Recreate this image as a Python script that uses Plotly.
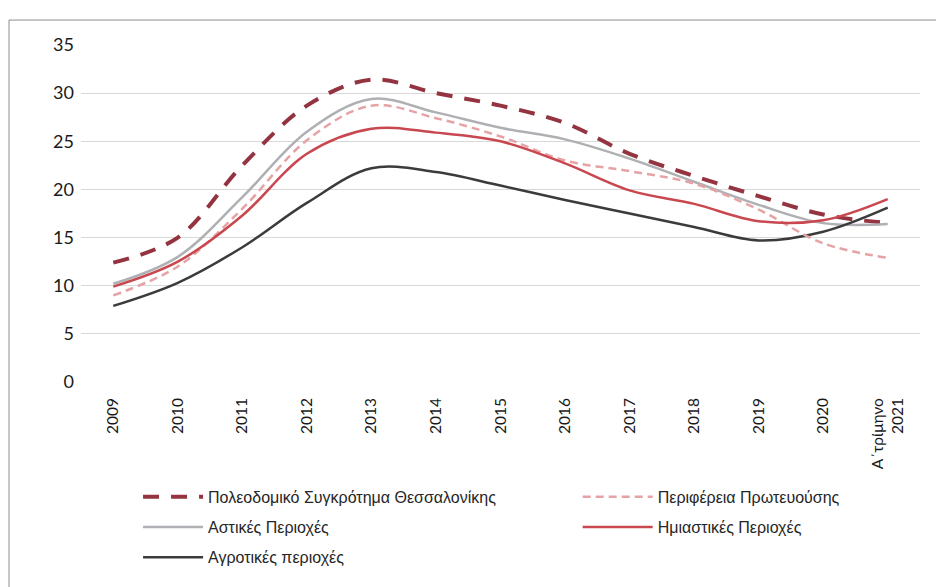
import plotly.graph_objects as go

# categories (x axis)
years = ["2009", "2010", "2011", "2012", "2013", "2014", "2015", "2016",
         "2017", "2018", "2019", "2020", "Α΄τρίμηνο<br>2021"]

# series values
thessaloniki = [12.4, 15.0, 22.5, 28.7, 31.4, 30.0, 28.7, 26.9, 23.7, 21.4, 19.3, 17.4, 16.5]
attica = [9.0, 12.0, 18.0, 25.1, 28.7, 27.4, 25.5, 23.0, 21.9, 20.6, 17.9, 14.4, 12.9]
urban = [10.2, 13.0, 19.2, 26.0, 29.4, 28.0, 26.4, 25.2, 23.2, 20.8, 18.4, 16.5, 16.4]
semi_urban = [9.9, 12.5, 17.3, 23.7, 26.3, 25.9, 25.0, 22.7, 19.9, 18.5, 16.7, 16.8, 19.0]
rural = [7.9, 10.3, 14.0, 18.6, 22.2, 21.8, 20.4, 18.9, 17.5, 16.1, 14.7, 15.6, 18.1]

names = ["Πολεοδομικό Συγκρότημα Θεσσαλονίκης", "Περιφέρεια Πρωτευούσης",
         "Αστικές Περιοχές", "Ημιαστικές Περιοχές", "Αγροτικές περιοχές"]

fig = go.Figure()

def add(y, name, color, width, dash, legend):
    fig.add_trace(go.Scatter(
        x=years, y=y, name=name, mode="lines",
        line=dict(color=color, width=width, dash=dash, shape="spline", smoothing=1),
        legend=legend, legendgroup=name,
    ))

add(thessaloniki, names[0], "#943440", 4, "16px,12px", "legend")
add(urban, names[2], "#aeb0b3", 2.5, "solid", "legend")
add(rural, names[4], "#3b3b3b", 2.5, "solid", "legend")
add(attica, names[1], "#e6a3a6", 2.5, "8px,5px", "legend2")
add(semi_urban, names[3], "#c9474f", 2.5, "solid", "legend2")

legend_font = dict(family="Liberation Sans Narrow, Liberation Sans, Arial", size=16, color="#262626")

# page body adds an 8px offset, so the layout is shifted up/left by 8px
fig.update_layout(
    width=944, height=587,
    margin=dict(l=73, r=32, t=37, b=213, autoexpand=False),
    paper_bgcolor="white", plot_bgcolor="white",
    showlegend=True,
    legend=dict(x=0.068, y=-0.29, xanchor="left", yanchor="top",
                orientation="v", tracegroupgap=6.5, font=legend_font,
                itemwidth=60, bgcolor="rgba(0,0,0,0)"),
    legend2=dict(x=0.592, y=-0.29, xanchor="left", yanchor="top",
                 orientation="v", tracegroupgap=6.5, font=legend_font,
                 itemwidth=70, bgcolor="rgba(0,0,0,0)"),
    shapes=[dict(type="rect", xref="paper", yref="paper",
                 x0=-0.0858, x1=1.05, y0=-0.7, y1=1.074,
                 line=dict(color="#8c8c8c", width=1))],
)

fig.update_xaxes(
    type="category", range=[-0.5, 12.5], showgrid=False, zeroline=False,
    showline=False, ticks="", tickangle=-90, ticklabelstandoff=12,
    tickfont=dict(family="Lato", size=15.5, color="#1a1a1a"),
)
fig.update_yaxes(
    range=[0, 35], dtick=5, showgrid=True, gridcolor="#d9d9d9", gridwidth=1,
    zeroline=False, showline=False, ticks="", ticklabelstandoff=6,
    tickfont=dict(family="Lato", size=18, color="#1a1a1a"),
)

fig.write_html("out.html")
